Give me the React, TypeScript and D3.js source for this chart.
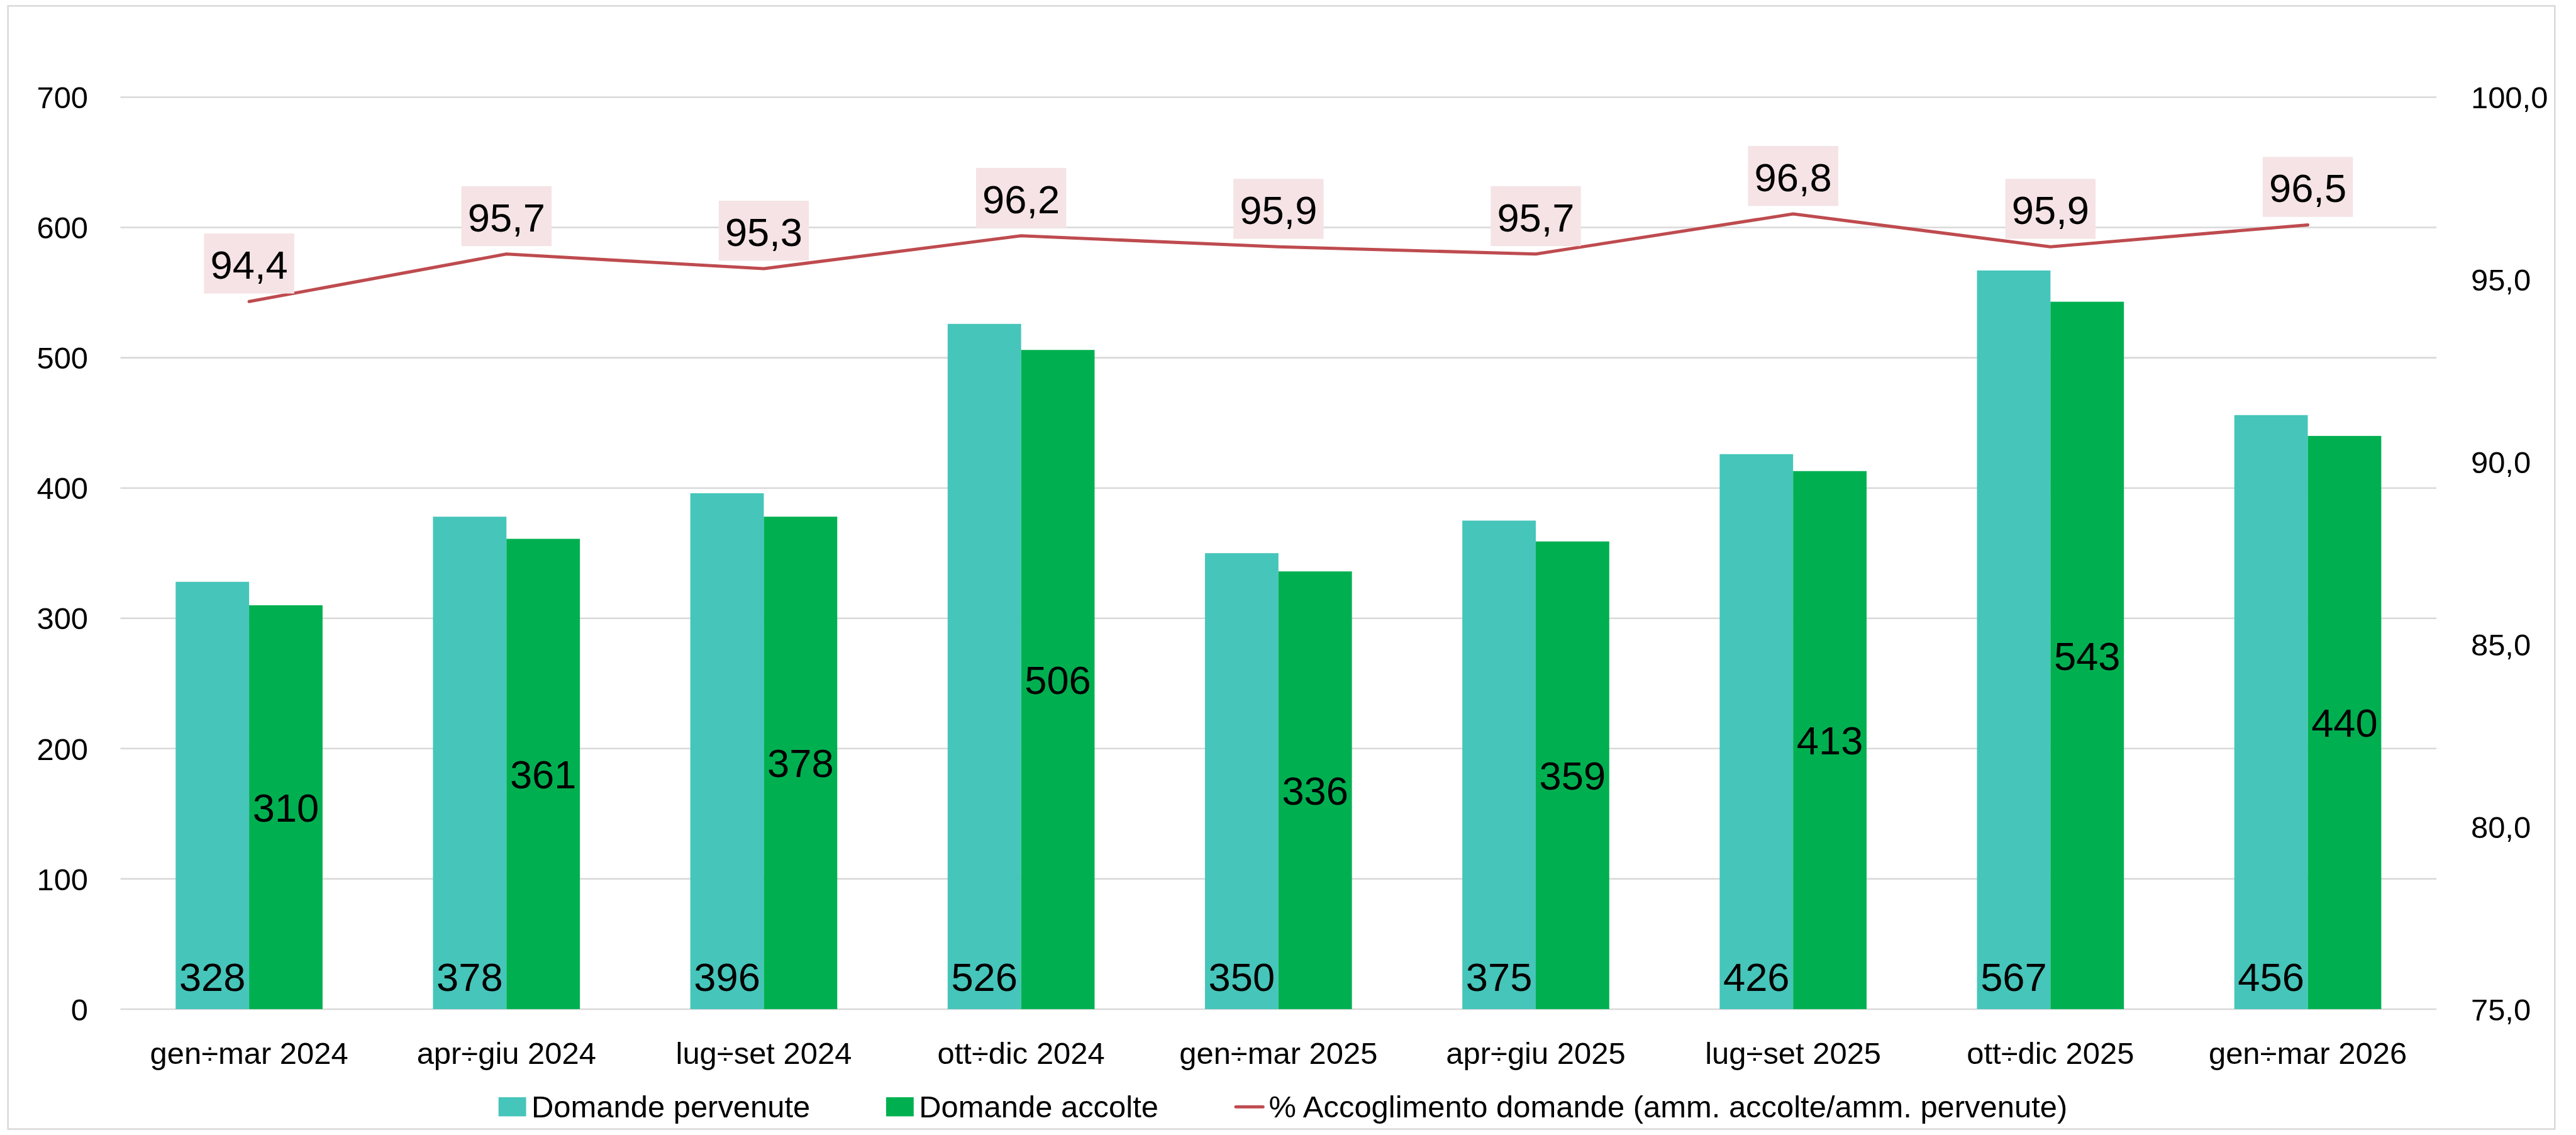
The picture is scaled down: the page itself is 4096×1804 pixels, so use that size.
import React, { useEffect, useRef } from "react";
import * as d3 from "d3";

const categories = [
  "gen÷mar 2024",
  "apr÷giu 2024",
  "lug÷set 2024",
  "ott÷dic 2024",
  "gen÷mar 2025",
  "apr÷giu 2025",
  "lug÷set 2025",
  "ott÷dic 2025",
  "gen÷mar 2026",
];
const pervenute = [328, 378, 396, 526, 350, 375, 426, 567, 456];
const accolte = [310, 361, 378, 506, 336, 359, 413, 543, 440];
const accoglimento = [94.4, 95.7, 95.3, 96.2, 95.9, 95.7, 96.8, 95.9, 96.5];

const leftTicks = [0, 100, 200, 300, 400, 500, 600, 700];
const rightTicks = [75, 80, 85, 90, 95, 100];

const seriesNames = [
  "Domande pervenute",
  "Domande accolte",
  "% Accoglimento domande (amm. accolte/amm. pervenute)",
];

const TEAL = "#46C5BA";
const GREEN = "#00B050";
const RED = "#BE4B4F";
const PINK = "#F5E3E5";
const GRID = "#D9D9D9";
const FONT = "'Liberation Sans', Arial, sans-serif";

// reference size, the svg viewBox scales it down to the window
const W = 4855;
const H = 2138;

const it = d3.formatLocale({ decimal: ",", thousands: ".", grouping: [3], currency: ["", "€"] });
const fmt1 = it.format(".1f");

export default function App() {
  const ref = useRef<SVGSVGElement | null>(null);

  useEffect(() => {
    document.body.style.margin = "0";
    const svg = d3.select(ref.current);
    svg.selectAll("*").remove();

    const left = 227, right = 4592, top = 183, bottom = 1901;

    const x = d3.scaleBand<string>()
      .domain(categories)
      .range([left, right])
      .paddingInner(0.429)
      .paddingOuter(0.2145);

    const x1 = d3.scaleBand<string>()
      .domain(["p", "a"])
      .range([0, x.bandwidth()]);

    const y = d3.scaleLinear().domain([0, 700]).range([bottom, top]);
    const yR = d3.scaleLinear().domain([75, 100]).range([bottom, top]);

    svg.append("rect")
      .attr("width", W).attr("height", H).attr("fill", "#fff");
    svg.append("rect")
      .attr("x", 15).attr("y", 11)
      .attr("width", 4800).attr("height", 2116)
      .attr("fill", "none").attr("stroke", GRID).attr("stroke-width", 3);

    // gridlines
    svg.append("g")
      .selectAll("line")
      .data(leftTicks)
      .enter()
      .append("line")
      .attr("x1", left).attr("x2", right)
      .attr("y1", d => y(d)).attr("y2", d => y(d))
      .attr("stroke", GRID).attr("stroke-width", 3);

    // left axis labels
    svg.append("g")
      .selectAll("text")
      .data(leftTicks)
      .enter()
      .append("text")
      .attr("x", 166)
      .attr("y", d => y(d) + 21)
      .attr("text-anchor", "end")
      .attr("font-family", FONT)
      .attr("font-size", 58)
      .text(d => String(d));

    // right axis labels
    svg.append("g")
      .selectAll("text")
      .data(rightTicks)
      .enter()
      .append("text")
      .attr("x", 4657)
      .attr("y", d => yR(d) + 21)
      .attr("font-family", FONT)
      .attr("font-size", 58)
      .text(d => fmt1(d));

    // x labels
    svg.append("g")
      .selectAll("text")
      .data(categories)
      .enter()
      .append("text")
      .attr("x", d => (x(d) as number) + x.bandwidth() / 2)
      .attr("y", 2004)
      .attr("text-anchor", "middle")
      .attr("font-family", FONT)
      .attr("font-size", 58)
      .text(d => d);

    // bars
    svg.append("g")
      .selectAll("rect")
      .data(pervenute)
      .enter()
      .append("rect")
      .attr("x", (d, i) => (x(categories[i]) as number) + (x1("p") as number))
      .attr("y", d => y(d))
      .attr("width", x1.bandwidth())
      .attr("height", d => y(0) - y(d))
      .attr("fill", TEAL);

    svg.append("g")
      .selectAll("rect")
      .data(accolte)
      .enter()
      .append("rect")
      .attr("x", (d, i) => (x(categories[i]) as number) + (x1("a") as number))
      .attr("y", d => y(d))
      .attr("width", x1.bandwidth())
      .attr("height", d => y(0) - y(d))
      .attr("fill", GREEN);

    // line
    const cx = (i: number) => (x(categories[i]) as number) + x.bandwidth() / 2;
    const line = d3.line<number>()
      .x((d, i) => cx(i))
      .y(d => yR(d));
    svg.append("path")
      .datum(accoglimento)
      .attr("d", line)
      .attr("fill", "none")
      .attr("stroke", RED)
      .attr("stroke-width", 6)
      .attr("stroke-linejoin", "round")
      .attr("stroke-linecap", "round");

    // bar labels
    svg.append("g")
      .selectAll("text")
      .data(pervenute)
      .enter()
      .append("text")
      .attr("x", (d, i) => (x(categories[i]) as number) + (x1("p") as number) + x1.bandwidth() / 2)
      .attr("y", 1867)
      .attr("text-anchor", "middle")
      .attr("font-family", FONT)
      .attr("font-size", 75)
      .text(d => String(d));

    svg.append("g")
      .selectAll("text")
      .data(accolte)
      .enter()
      .append("text")
      .attr("x", (d, i) => (x(categories[i]) as number) + (x1("a") as number) + x1.bandwidth() / 2)
      .attr("y", d => (y(d) + y(0)) / 2 + 27)
      .attr("text-anchor", "middle")
      .attr("font-family", FONT)
      .attr("font-size", 75)
      .text(d => String(d));

    // line labels with pink boxes
    const lbl = svg.append("g")
      .selectAll("g")
      .data(accoglimento)
      .enter()
      .append("g");
    lbl.append("rect")
      .attr("fill", PINK);
    lbl.append("text")
      .attr("x", (d, i) => cx(i))
      .attr("y", d => yR(d) - 15 - 28)
      .attr("text-anchor", "middle")
      .attr("font-family", FONT)
      .attr("font-size", 75)
      .text(d => fmt1(d));
    lbl.each(function (d, i) {
      const g = d3.select(this);
      const t = g.select("text").node() as SVGTextElement;
      const w = t.getComputedTextLength() + 24;
      g.select("rect")
        .attr("x", cx(i) - w / 2)
        .attr("y", yR(d) - 15 - 113)
        .attr("width", w)
        .attr("height", 113);
    });

    // legend
    const legend = svg.append("g");
    const ly = 2085;
    const items: { node: d3.Selection<SVGGElement, unknown, null, undefined>; w: number }[] = [];
    seriesNames.forEach((name, i) => {
      const g = legend.append("g");
      const keyW = i < 2 ? 52 : 57;
      const pad = i < 2 ? 10 : 8;
      if (i < 2) {
        g.append("rect")
          .attr("x", 0).attr("y", ly - 18)
          .attr("width", keyW).attr("height", 36)
          .attr("fill", i === 0 ? TEAL : GREEN);
      } else {
        g.append("line")
          .attr("x1", 3).attr("x2", keyW - 3)
          .attr("y1", ly).attr("y2", ly)
          .attr("stroke", RED).attr("stroke-width", 6)
          .attr("stroke-linecap", "round");
      }
      const txt = g.append("text")
        .attr("x", keyW + pad)
        .attr("y", ly + 20)
        .attr("font-family", FONT)
        .attr("font-size", 58)
        .text(name);
      const tw = (txt.node() as SVGTextElement).getComputedTextLength();
      items.push({ node: g, w: keyW + pad + tw });
    });
    const gap = 143;
    const total = d3.sum(items, d => d.w) + gap * (items.length - 1);
    let lx = 2418 - total / 2;
    items.forEach(d => {
      d.node.attr("transform", `translate(${lx},0)`);
      lx += d.w + gap;
    });
  }, []);

  return (
    <svg
      ref={ref}
      width={4096}
      height={1804}
      viewBox={`0 0 ${W} ${H}`}
      style={{ position: "absolute", left: 0, top: 0, display: "block" }}
    />
  );
}
